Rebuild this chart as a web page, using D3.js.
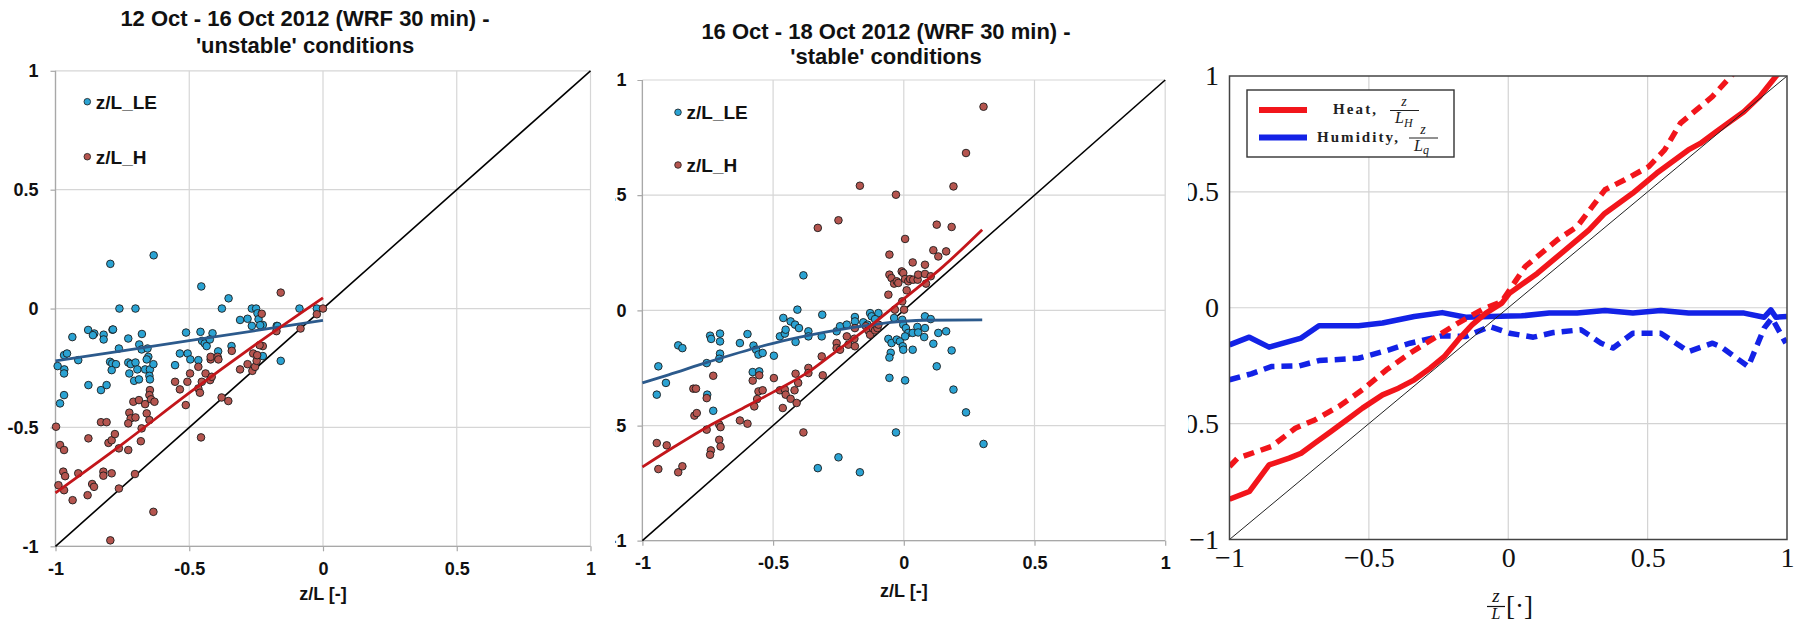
<!DOCTYPE html>
<html>
<head>
<meta charset="utf-8">
<script src="https://cdn.jsdelivr.net/npm/d3@7"></script>
<style>
  body { margin: 0; background: #fff; }
  svg { display: block; }
</style>
</head>
<body>
<svg id="fig" width="1804" height="623"></svg>
<script>
// ---- shared axis ticks ----
const ticks = [-1, -0.5, 0, 0.5, 1];
const excelTickLabels = ["-1", "-0.5", "0", "0.5", "1"];
const latexTickLabels = ["\u22121", "\u22120.5", "0", "0.5", "1"];

// ---- 12-16 Oct, unstable: [z/L, z/L_x] ----
const unstableLE = [
  [-0.795,0.188],[-0.633,0.224],[-0.455,0.093],[-0.353,0.043],[-0.761,0],[-0.701,0],[-0.378,0],
  [-0.266,0],[-0.25,0],[-0.245,-0.02],[-0.31,-0.048],[-0.282,-0.043],[-0.241,-0.045],[-0.266,-0.073],
  [-0.225,-0.069],[-0.173,-0.073],[-0.088,0],[-0.023,0],[-0.878,-0.09],[-0.855,-0.105],[-0.82,-0.11],
  [-0.82,-0.13],[-0.787,-0.089],[-0.677,-0.107],[-0.512,-0.101],[-0.458,-0.098],[-0.413,-0.104],
  [-0.937,-0.12],[-0.728,-0.126],[-0.763,-0.168],[-0.687,-0.151],[-0.678,-0.172],[-0.656,-0.168],
  [-0.968,-0.196],[-0.957,-0.189],[-0.915,-0.217],[-0.992,-0.242],[-0.967,-0.256],[-0.968,-0.273],
  [-0.983,-0.399],[-0.968,-0.364],[-0.877,-0.322],[-0.83,-0.343],[-0.809,-0.322],[-0.796,-0.224],
  [-0.788,-0.231],[-0.774,-0.234],[-0.79,-0.259],[-0.728,-0.227],[-0.719,-0.234],[-0.701,-0.227],
  [-0.724,-0.273],[-0.694,-0.256],[-0.706,-0.304],[-0.688,-0.298],[-0.653,-0.203],[-0.659,-0.214],
  [-0.665,-0.256],[-0.647,-0.256],[-0.634,-0.234],[-0.649,-0.283],[-0.647,-0.298],[-0.553,-0.238],
  [-0.535,-0.189],[-0.506,-0.189],[-0.496,-0.214],[-0.466,-0.217],[-0.452,-0.136],[-0.442,-0.147],
  [-0.435,-0.158],[-0.423,-0.13],[-0.392,-0.18],[-0.342,-0.158],[-0.225,-0.2],[-0.158,-0.22],
  [-0.17,-0.074],[-0.235,-0.07],[-0.785,-0.088],[-0.86,-0.112]
];
const unstableH = [
  [-0.158,0.067],[-0.229,-0.022],[0,0],[-0.023,-0.024],[-0.084,-0.084],[-0.174,-0.095],[-0.795,-0.975],
  [-0.998,-0.497],[-0.983,-0.574],[-0.968,-0.595],[-0.971,-0.686],[-0.964,-0.705],[-0.989,-0.743],
  [-0.968,-0.764],[-0.936,-0.806],[-0.915,-0.693],[-0.88,-0.785],[-0.877,-0.546],[-0.863,-0.738],
  [-0.856,-0.75],[-0.83,-0.478],[-0.809,-0.478],[-0.821,-0.686],[-0.821,-0.703],[-0.79,-0.693],
  [-0.802,-0.565],[-0.79,-0.554],[-0.778,-0.528],[-0.763,-0.588],[-0.728,-0.595],[-0.703,-0.696],
  [-0.763,-0.757],[-0.681,-0.558],[-0.678,-0.504],[-0.724,-0.438],[-0.719,-0.462],[-0.709,-0.392],
  [-0.688,-0.385],[-0.701,-0.458],[-0.728,-0.483],[-0.665,-0.402],[-0.659,-0.441],[-0.649,-0.469],
  [-0.647,-0.343],[-0.649,-0.364],[-0.643,-0.382],[-0.63,-0.392],[-0.634,-0.855],[-0.553,-0.308],
  [-0.535,-0.34],[-0.507,-0.308],[-0.513,-0.406],[-0.497,-0.273],[-0.466,-0.336],[-0.46,-0.354],
  [-0.456,-0.542],[-0.453,-0.308],[-0.439,-0.273],[-0.422,-0.301],[-0.416,-0.287],[-0.466,-0.245],
  [-0.42,-0.214],[-0.42,-0.203],[-0.394,-0.203],[-0.391,-0.214],[-0.379,-0.374],[-0.354,-0.389],
  [-0.341,-0.178],[-0.31,-0.256],[-0.282,-0.234],[-0.264,-0.262],[-0.254,-0.245],[-0.248,-0.22],
  [-0.261,-0.189],[-0.246,-0.196],[-0.225,-0.158],[-0.237,-0.154]
];
const unstableTrendLE = [[-1,-0.22],[-0.5,-0.135],[0,-0.05]];
const unstableTrendH = [[-1,-0.775],[-0.75,-0.57],[-0.5,-0.355],[-0.25,-0.15],[0,0.045]];

// ---- 16-18 Oct, stable: [z/L, z/L_x] ----
const stableLE = [
  [-0.939,-0.243],[-0.91,-0.315],[-0.945,-0.366],[-0.863,-0.152],[-0.847,-0.164],[-0.741,-0.11],
  [-0.737,-0.124],[-0.703,-0.101],[-0.703,-0.135],[-0.703,-0.188],[-0.706,-0.21],[-0.754,-0.229],
  [-0.752,-0.366],[-0.729,-0.436],[-0.627,-0.142],[-0.598,-0.103],[-0.575,-0.153],[-0.565,-0.171],
  [-0.556,-0.192],[-0.54,-0.185],[-0.578,-0.268],[-0.553,-0.265],[-0.497,-0.197],[-0.474,-0.113],
  [-0.461,-0.033],[-0.455,-0.101],[-0.452,-0.084],[-0.433,-0.048],[-0.416,-0.062],[-0.414,-0.137],
  [-0.407,0.003],[-0.401,-0.077],[-0.384,0.152],[-0.365,-0.091],[-0.365,-0.113],[-0.312,-0.019],
  [-0.314,-0.113],[-0.257,-0.091],[-0.244,-0.069],[-0.218,-0.062],[-0.187,-0.029],[-0.187,-0.048],
  [-0.155,-0.052],[-0.129,-0.012],[-0.123,-0.026],[-0.097,-0.012],[-0.139,-0.062],[-0.11,-0.038],
  [-0.037,-0.033],[-0.006,-0.041],[-0.002,-0.062],[0.008,-0.077],[0.017,-0.098],[0.034,-0.098],
  [0.052,-0.072],[0.055,-0.096],[0.081,-0.026],[0.081,-0.077],[0.103,-0.038],[0.078,-0.116],
  [0.132,-0.098],[0.162,-0.091],[0.113,-0.145],[0.183,-0.174],[0.126,-0.243],[0.034,-0.171],
  [-0.059,-0.124],[-0.047,-0.142],[-0.027,-0.127],[-0.015,-0.135],[-0.004,-0.156],[-0.002,-0.171],
  [0.005,-0.113],[-0.05,-0.184],[-0.055,-0.205],[-0.055,-0.293],[0.005,-0.304],[0.19,-0.344],
  [0.238,-0.443],[0.305,-0.58],[-0.03,-0.53],[-0.25,-0.638],[-0.329,-0.685],[-0.168,-0.703]
];
const stableH = [
  [-0.729,-0.284],[-0.805,-0.34],[-0.795,-0.34],[-0.754,-0.381],[-0.801,-0.457],[-0.792,-0.446],
  [-0.754,-0.518],[-0.706,-0.496],[-0.701,-0.507],[-0.706,-0.562],[-0.701,-0.591],[-0.738,-0.608],
  [-0.741,-0.627],[-0.945,-0.576],[-0.907,-0.586],[-0.939,-0.689],[-0.863,-0.703],[-0.847,-0.677],
  [-0.627,-0.478],[-0.598,-0.492],[-0.578,-0.305],[-0.553,-0.282],[-0.556,-0.352],[-0.54,-0.347],
  [-0.561,-0.385],[-0.572,-0.417],[-0.497,-0.294],[-0.474,-0.347],[-0.455,-0.344],[-0.452,-0.366],
  [-0.433,-0.384],[-0.463,-0.424],[-0.418,-0.347],[-0.41,-0.402],[-0.414,-0.275],[-0.404,-0.315],
  [-0.384,-0.53],[-0.365,-0.25],[-0.365,-0.272],[-0.31,-0.282],[-0.314,-0.2],[-0.257,-0.142],
  [-0.257,-0.164],[-0.244,-0.171],[-0.218,-0.113],[-0.212,-0.149],[-0.189,-0.123],[-0.187,-0.156],
  [-0.187,-0.077],[-0.145,-0.069],[-0.136,-0.087],[-0.129,-0.106],[-0.119,-0.077],[-0.11,-0.087],
  [-0.101,-0.077],[-0.097,-0.062],[-0.055,0.242],[-0.055,0.155],[-0.059,0.068],[-0.047,0.14],
  [-0.037,0.116],[-0.027,0.126],[-0.021,0.119],[-0.008,0.169],[-0.002,0.162],[0.005,0.136],
  [0.011,0.087],[-0.006,0.039],[0.001,0.003],[-0.034,0.003],[0.005,0.31],[0.034,0.208],
  [0.017,0.126],[0.024,0.136],[0.036,0.133],[0.053,0.133],[0.055,0.155],[0.081,0.198],
  [0.081,0.158],[0.085,0.116],[0.103,0.148],[0.113,0.261],[0.132,0.234],[0.162,0.256],
  [0.126,0.372],[0.183,0.362],[0.19,0.538],[0.238,0.683],[0.305,0.884],[-0.03,0.502],
  [-0.168,0.541],[-0.25,0.391],[-0.329,0.358]
];
const stableTrendLE = [[-1,-0.315],[-0.9,-0.28],[-0.75,-0.225],[-0.5,-0.143],[-0.3,-0.095],
  [-0.18,-0.072],[-0.05,-0.052],[0.075,-0.043],[0.3,-0.041]];
const stableTrendH = [[-1,-0.68],[-0.875,-0.59],[-0.75,-0.505],[-0.625,-0.43],[-0.5,-0.355],
  [-0.375,-0.275],[-0.25,-0.17],[-0.125,-0.065],[0,0.05],[0.15,0.19],[0.3,0.35]];

// ---- binned stability parameters (solid / dashed) ----
const heatSolid = [[-1,-0.826],[-0.929,-0.793],[-0.858,-0.678],[-0.786,-0.649],[-0.743,-0.628],
  [-0.694,-0.584],[-0.636,-0.534],[-0.58,-0.484],[-0.523,-0.433],[-0.451,-0.376],[-0.394,-0.347],
  [-0.337,-0.311],[-0.28,-0.261],[-0.23,-0.211],[-0.18,-0.139],[-0.13,-0.074],[-0.08,-0.023],
  [-0.023,0.02],[0.004,0.062],[0.104,0.148],[0.19,0.235],[0.289,0.335],[0.346,0.407],[0.446,0.494],
  [0.532,0.58],[0.646,0.681],[0.689,0.709],[0.746,0.76],[0.845,0.846],[0.902,0.911],[0.959,0.997],
  [1,1.05]];
const heatDashed = [[-1,-0.685],[-0.971,-0.649],[-0.85,-0.599],[-0.764,-0.52],[-0.694,-0.484],
  [-0.608,-0.426],[-0.523,-0.354],[-0.437,-0.268],[-0.352,-0.196],[-0.266,-0.131],[-0.18,-0.066],
  [-0.095,-0.009],[-0.023,0.027],[0.061,0.178],[0.176,0.293],[0.247,0.35],[0.347,0.509],
  [0.418,0.552],[0.504,0.609],[0.561,0.681],[0.618,0.797],[0.675,0.854],[0.732,0.911],[0.803,1.005],
  [0.85,1.07]];
const humSolid = [[-1,-0.16],[-0.929,-0.127],[-0.858,-0.17],[-0.743,-0.131],[-0.679,-0.078],
  [-0.537,-0.078],[-0.451,-0.066],[-0.337,-0.038],[-0.237,-0.021],[-0.152,-0.041],[-0.066,-0.038],
  [0.048,-0.035],[0.147,-0.023],[0.247,-0.023],[0.347,-0.012],[0.447,-0.023],[0.547,-0.012],
  [0.647,-0.023],[0.846,-0.023],[0.918,-0.041],[0.942,-0.009],[0.96,-0.041],[1,-0.038]];
const humDashed = [[-1,-0.311],[-0.922,-0.285],[-0.85,-0.254],[-0.75,-0.251],[-0.679,-0.228],
  [-0.537,-0.218],[-0.437,-0.185],[-0.352,-0.153],[-0.237,-0.121],[-0.152,-0.124],[-0.066,-0.081],
  [0.005,-0.11],[0.09,-0.127],[0.162,-0.107],[0.261,-0.095],[0.333,-0.153],[0.376,-0.174],
  [0.447,-0.11],[0.547,-0.11],[0.647,-0.189],[0.733,-0.153],[0.761,-0.167],[0.861,-0.254],
  [0.918,-0.088],[0.946,-0.045],[0.996,-0.153]];

const sans = "'Liberation Sans', Arial, sans-serif";
const serif = "'Liberation Serif', 'DejaVu Serif', serif";
const svg = d3.select("#fig");
const defs = svg.append("defs");

function clipRect(id, x, y, w, h) {
  defs.append("clipPath").attr("id", id).append("rect")
    .attr("x", x).attr("y", y).attr("width", w).attr("height", h);
  return `url(#${id})`;
}

// Excel-style scatter panel
function scatterPanel(cfg) {
  const g = svg.append("g").attr("clip-path", clipRect(cfg.id, ...cfg.clip));
  const x = d3.scaleLinear().domain([-1, 1]).range(cfg.xr);
  const y = d3.scaleLinear().domain([-1, 1]).range(cfg.yr);

  // gridlines
  g.append("g").selectAll("line").data(ticks).join("line")
    .attr("x1", d => x(d)).attr("x2", d => x(d)).attr("y1", y(-1)).attr("y2", y(1))
    .attr("stroke", "#d6d6d6").attr("stroke-width", 1.2);
  g.append("g").selectAll("line").data(ticks).join("line")
    .attr("y1", d => y(d)).attr("y2", d => y(d)).attr("x1", x(-1)).attr("x2", x(1))
    .attr("stroke", "#d6d6d6").attr("stroke-width", 1.2);

  // axes
  const ax = g.append("g").attr("transform", `translate(0,${y(-1)})`)
    .call(d3.axisBottom(x).tickValues(ticks).tickFormat((d, i) => excelTickLabels[i])
      .tickSize(5).tickPadding(cfg.xPad));
  const ay = g.append("g").attr("transform", `translate(${x(-1)},0)`)
    .call(d3.axisLeft(y).tickValues(ticks).tickFormat((d, i) => excelTickLabels[i])
      .tickSize(5).tickPadding(cfg.yPad));
  [ax, ay].forEach(a => {
    a.select(".domain").remove();
    a.selectAll(".tick line").attr("stroke", "#a8a8a8").attr("stroke-width", 1.2);
    a.selectAll("text").attr("font-family", sans).attr("font-weight", "bold")
      .attr("font-size", 18).attr("fill", "#111");
  });
  g.append("line").attr("x1", x(-1)).attr("x2", x(1)).attr("y1", y(-1)).attr("y2", y(-1))
    .attr("stroke", "#a8a8a8").attr("stroke-width", 1.3);
  g.append("line").attr("x1", x(-1)).attr("x2", x(-1)).attr("y1", y(-1)).attr("y2", y(1))
    .attr("stroke", "#a8a8a8").attr("stroke-width", 1.3);

  // 1:1 line
  g.append("line").attr("x1", x(-1)).attr("y1", y(-1)).attr("x2", x(1)).attr("y2", y(1))
    .attr("stroke", "#000").attr("stroke-width", 1.6);

  // markers
  const dot = (data, fill) => g.append("g").selectAll("circle").data(data).join("circle")
    .attr("cx", d => x(d[0])).attr("cy", d => y(d[1])).attr("r", 3.8)
    .attr("fill", fill).attr("stroke", "#1c1c1c").attr("stroke-width", 0.9);
  dot(cfg.le, "#2ba3d3");
  dot(cfg.h, "#b5554f");

  // trendlines
  const line = d3.line().x(d => x(d[0])).y(d => y(d[1])).curve(d3.curveMonotoneX);
  g.append("path").datum(cfg.trendLE).attr("d", line).attr("fill", "none")
    .attr("stroke", "#2c5a8c").attr("stroke-width", 2.8);
  g.append("path").datum(cfg.trendH).attr("d", line).attr("fill", "none")
    .attr("stroke", "#c3161b").attr("stroke-width", 2.8);

  // title
  const t = g.append("text").attr("text-anchor", "middle").attr("font-family", sans)
    .attr("font-weight", "bold").attr("font-size", 22).attr("fill", "#111");
  cfg.title.forEach((s, i) => t.append("tspan").attr("x", cfg.titleX)
    .attr("y", cfg.titleY[i]).text(s));

  // axis title
  g.append("text").attr("x", (cfg.xr[0] + cfg.xr[1]) / 2).attr("y", cfg.axisTitleY)
    .attr("text-anchor", "middle").attr("font-family", sans).attr("font-weight", "bold")
    .attr("font-size", 18).attr("fill", "#111").text("z/L [-]");

  // legend
  const legend = [["z/L_LE", "#2ba3d3"], ["z/L_H", "#b5554f"]];
  legend.forEach(([name, fill], i) => {
    const ly = cfg.legendY[i];
    g.append("circle").attr("cx", cfg.legendX).attr("cy", ly).attr("r", 3.3)
      .attr("fill", fill).attr("stroke", "#1c1c1c").attr("stroke-width", 0.8);
    g.append("text").attr("x", cfg.legendX + 8.5).attr("y", ly).attr("dy", "0.36em")
      .attr("font-family", sans).attr("font-weight", "bold").attr("font-size", 19)
      .attr("fill", "#111").text(name);
  });
}

scatterPanel({
  id: "clipA", clip: [0, 0, 615, 623],
  xr: [55.5, 590.5], yr: [546.3, 70.8], xPad: 11, yPad: 12,
  le: unstableLE, h: unstableH, trendLE: unstableTrendLE, trendH: unstableTrendH,
  title: ["12 Oct - 16 Oct 2012 (WRF 30 min) -", "'unstable' conditions"],
  titleX: 305, titleY: [26, 52.7], axisTitleY: 600,
  legendX: 87.3, legendY: [101.7, 156.7]
});

scatterPanel({
  id: "clipB", clip: [615.2, 0, 572.8, 623],
  xr: [642.4, 1165.2], yr: [540.7, 80], xPad: 11, yPad: 11,
  le: stableLE, h: stableH, trendLE: stableTrendLE, trendH: stableTrendH,
  title: ["16 Oct - 18 Oct 2012 (WRF 30 min) -", "'stable' conditions"],
  titleX: 886, titleY: [39.3, 64], axisTitleY: 596.5,
  legendX: 678, legendY: [112.3, 165]
});

// pgfplots-style line panel
(function linePanel() {
  const g = svg.append("g").attr("clip-path", clipRect("clipC", 1188, 0, 616, 623));
  const x = d3.scaleLinear().domain([-1, 1]).range([1229.5, 1787]);
  const y = d3.scaleLinear().domain([-1, 1]).range([539.5, 76]);
  const plotClip = clipRect("clipCPlot", x(-1), y(1), x(1) - x(-1), y(-1) - y(1));

  g.append("g").selectAll("line").data(ticks.slice(1, 4)).join("line")
    .attr("x1", d => x(d)).attr("x2", d => x(d)).attr("y1", y(-1)).attr("y2", y(1))
    .attr("stroke", "#d3d3d3").attr("stroke-width", 1.2);
  g.append("g").selectAll("line").data(ticks.slice(1, 4)).join("line")
    .attr("y1", d => y(d)).attr("y2", d => y(d)).attr("x1", x(-1)).attr("x2", x(1))
    .attr("stroke", "#d3d3d3").attr("stroke-width", 1.2);

  const ax = g.append("g").attr("transform", `translate(0,${y(-1)})`)
    .call(d3.axisBottom(x).tickValues(ticks).tickFormat((d, i) => latexTickLabels[i])
      .tickSize(0).tickPadding(8));
  const ay = g.append("g").attr("transform", `translate(${x(-1)},0)`)
    .call(d3.axisLeft(y).tickValues(ticks).tickFormat((d, i) => latexTickLabels[i])
      .tickSize(0).tickPadding(10.5));
  [ax, ay].forEach(a => {
    a.select(".domain").remove();
    a.selectAll("text").attr("font-family", serif).attr("font-size", 28).attr("fill", "#111");
  });

  const lines = g.append("g").attr("clip-path", plotClip);
  const line = d3.line().x(d => x(d[0])).y(d => y(d[1]));
  const series = [
    [humSolid, "#1322e6", null], [humDashed, "#1322e6", "11,7"],
    [heatSolid, "#f2151b", null], [heatDashed, "#f2151b", "11,7"]
  ];
  series.forEach(([data, color, dash]) => {
    lines.append("path").datum(data).attr("d", line).attr("fill", "none")
      .attr("stroke", color).attr("stroke-width", 5.5)
      .attr("stroke-linejoin", "round").attr("stroke-dasharray", dash);
  });
  lines.append("line").attr("x1", x(-1)).attr("y1", y(-1)).attr("x2", x(1)).attr("y2", y(1))
    .attr("stroke", "#222").attr("stroke-width", 1);

  g.append("rect").attr("x", x(-1)).attr("y", y(1))
    .attr("width", x(1) - x(-1)).attr("height", y(-1) - y(1))
    .attr("fill", "none").attr("stroke", "#444").attr("stroke-width", 1.5);

  // legend
  g.append("rect").attr("x", 1247).attr("y", 90).attr("width", 207).attr("height", 67)
    .attr("fill", "#fff").attr("stroke", "#333").attr("stroke-width", 1.4);
  const entries = [
    { color: "#f2151b", y: 110, label: "Heat,", lx: 1333, lw: 43, fx: 1404, sub: "H" },
    { color: "#1322e6", y: 137.5, label: "Humidity,", lx: 1317, lw: 81, fx: 1423, sub: "q" }
  ];
  entries.forEach(e => {
    g.append("line").attr("x1", 1259).attr("x2", 1307).attr("y1", e.y).attr("y2", e.y)
      .attr("stroke", e.color).attr("stroke-width", 6);
    g.append("text").attr("x", e.lx).attr("y", e.y + 4).attr("font-family", serif)
      .attr("font-weight", "bold").attr("font-size", 15).attr("fill", "#222")
      .attr("textLength", e.lw).attr("lengthAdjust", "spacing").text(e.label);
    g.append("text").attr("x", e.fx).attr("y", e.y - 4).attr("text-anchor", "middle")
      .attr("font-family", serif).attr("font-style", "italic").attr("font-size", 14)
      .attr("fill", "#222").text("z");
    g.append("line").attr("x1", e.fx - 14).attr("x2", e.fx + 15).attr("y1", e.y + 0.5)
      .attr("y2", e.y + 0.5).attr("stroke", "#222").attr("stroke-width", 1);
    const den = g.append("text").attr("x", e.fx - 9).attr("y", e.y + 13)
      .attr("font-family", serif).attr("font-style", "italic").attr("font-size", 16)
      .attr("fill", "#222").text("L");
    den.append("tspan").attr("dy", 3.5).attr("font-size", 12).text(e.sub);
  });

  // x axis label: z/L [·]
  g.append("text").attr("x", 1496).attr("y", 602).attr("text-anchor", "middle")
    .attr("font-family", serif).attr("font-style", "italic").attr("font-size", 19)
    .attr("fill", "#111").text("z");
  g.append("line").attr("x1", 1487).attr("x2", 1505).attr("y1", 606.5).attr("y2", 606.5)
    .attr("stroke", "#111").attr("stroke-width", 1.2);
  g.append("text").attr("x", 1496).attr("y", 619).attr("text-anchor", "middle")
    .attr("font-family", serif).attr("font-style", "italic").attr("font-size", 16)
    .attr("fill", "#111").text("L");
  g.append("text").attr("x", 1506).attr("y", 615).attr("font-family", serif)
    .attr("font-size", 27).attr("fill", "#111").text("[\u00b7]");
})();
</script>
</body>
</html>
